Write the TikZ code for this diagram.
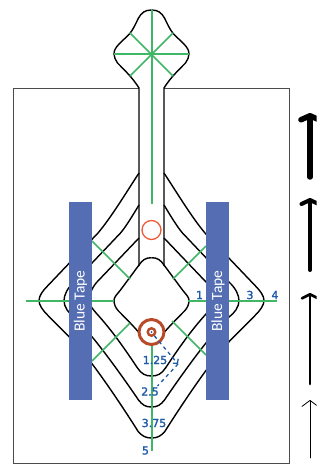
\documentclass[tikz,border=0pt]{standalone}
\usepackage{xcolor}
\usepackage{fontspec}
\setmainfont{Carlito}
\newfontfamily\labelfont[FakeBold=2]{DejaVu Sans}
\usetikzlibrary{positioning, arrows.meta}
\definecolor{tapeblue}{HTML}{546DB3}
\definecolor{markgreen}{HTML}{3FB766}
\definecolor{labelblue}{HTML}{1F5BA8}
\definecolor{ringbrown}{HTML}{B84A2A}
\definecolor{holered}{HTML}{EE5A35}
\tikzstyle{contour} = [draw=black, line width=1.4pt, line join=round]
\tikzstyle{outer} = [draw=black!70, line width=1pt]
\tikzstyle{greenline} = [draw=markgreen, line width=1.6pt]
\tikzstyle{tape} = [rectangle, minimum width=23pt, minimum height=198pt, inner sep=0pt, fill=tapeblue, text=white, font=\fontsize{15.5}{15.5}\selectfont]
\tikzstyle{dist} = [text=labelblue, inner sep=0pt, font=\labelfont\fontsize{11}{11}\selectfont]
\tikzstyle{upward} = [draw=black, line cap=round]
\begin{document}
\begin{tikzpicture}[x=1pt, y=-1pt]
		\useasboundingbox (-151.5,0) rectangle (175.5,468);
		% outer frame, open where the handle leaves it
		\draw [outer] (-12.5,89) -- (-137.5,89) -- (-137.5,463) -- (137.5,463) -- (137.5,89) -- (12.5,89);
		% the same half outlines, mirrored
		\foreach \s in {1,-1}{
			% head and neck
			\draw [contour] (0,10) .. controls (\s*7,10) and (\s*10,13) .. (\s*13,18) .. controls (\s*16,24) and (\s*18,29) .. (\s*22,34) .. controls (\s*27,39) and (\s*32,43) .. (\s*35,47) .. controls (\s*37,49) and (\s*37.5,52) .. (\s*37.5,54) .. controls (\s*37.5,57) and (\s*36,60) .. (\s*34,63) .. controls (\s*30,67) and (\s*26,71) .. (\s*21.5,76) .. controls (\s*18,80) and (\s*15,84) .. (\s*12.5,88) -- (\s*12.5,266);
			% inner
			\draw [contour] (0,257.7) .. controls (\s*6,257.7) and (\s*9,260) .. (\s*12.5,265) -- (\s*31,290) .. controls (\s*35,295) and (\s*37.5,297) .. (\s*37.5,300.6) .. controls (\s*37.5,304) and (\s*36,308) .. (\s*33,311) .. controls (\s*27,317) and (\s*20,324) .. (\s*13,332);
			% 1.25
			\draw [contour] (\s*12.5,238) -- (\s*54.5,282) .. controls (\s*60,288) and (\s*62.5,296) .. (\s*62.5,300.6) .. controls (\s*62.5,305) and (\s*58,310) .. (\s*54.5,314) .. controls (\s*40,330) and (\s*28,347) .. (\s*14,368) .. controls (\s*10,374) and (\s*6,376) .. (0,376);
			% 2.5
			\draw [contour] (\s*12.5,205) .. controls (\s*18,214) and (\s*25,226) .. (\s*31,233) -- (\s*77.5,282) .. controls (\s*84,288) and (\s*87.5,295) .. (\s*87.5,300.6) .. controls (\s*87.5,307) and (\s*83,313) .. (\s*77.5,317) .. controls (\s*60,333) and (\s*30,375) .. (\s*13,400) .. controls (\s*9,405) and (\s*6,407) .. (0,407);
			% 3.75
			\draw [contour] (\s*12.5,173) .. controls (\s*25,192) and (\s*40,217) .. (\s*53.5,233) -- (\s*104,286) .. controls (\s*109,291) and (\s*112.5,296) .. (\s*112.5,300.6) .. controls (\s*112.5,305) and (\s*109,310) .. (\s*104,315) -- (\s*78.5,340.7) .. controls (\s*60,360) and (\s*30,405) .. (\s*13,432) .. controls (\s*9,436) and (\s*6,438) .. (0,438);
		}
		% markings on the head
		\coordinate (headtop) at (0.4,10);
		\coordinate (headcentre) at (0,54);
		\coordinate (stemend) at (0.4,204);
		\draw [greenline, line width=2pt] (headtop) -- (stemend);
		\draw [greenline] (-37.5,54) -- (37.5,54);
		\draw [greenline] (-21.5,33) -- (21.5,76);
		\draw [greenline] (21.5,33) -- (-21.5,76);
		\fill [markgreen] (headcentre) circle (2);
		% markings on the body
		\draw [greenline, line width=2pt] (-125.5,300.9) -- (-37.5,300.9);
		\draw [greenline, line width=2pt] (36,300.9) -- (125.5,300.9);
		\draw [greenline] (-59.5,241) -- (-21.5,279);
		\draw [greenline] (21.5,279) -- (54.5,246);
		\draw [greenline] (-21.5,323) -- (-59.5,361);
		\draw [greenline] (20.5,321) -- (54.5,355);
		\node (Hole)[circle, draw=holered, line width=1.3pt, minimum size=19pt, inner sep=0pt] at (0,230){};
		\node (Ring)[circle, draw=ringbrown, fill=white, line width=3pt, minimum size=25pt, inner sep=0pt] at (0,332){};
		\coordinate (markend) at (0.4,451);
		\coordinate (markstart) at (0.4,346);
		\draw [greenline, line width=2pt] (markstart) -- (markend);
		\node (Pin)[circle, draw=ringbrown, line width=2.4pt, minimum size=7.5pt, inner sep=0pt] at (0,332){};
		\fill [labelblue] (Pin.center) circle (1);
		% tape
		\node (Left Tape)[tape] at (-71,301){\rotatebox{90}{Blue Tape}};
		\node (Right Tape)[tape, right = 114pt of Left Tape]{\rotatebox{90}{Blue Tape}};
		% dashed guide
		\coordinate (guidecorner) at (26.5,364);
		\coordinate (guideend) at (6,386);
		\draw [labelblue, line width=1.3pt, dash pattern=on 3.5pt off 3.5pt, -{Straight Barb[length=3pt,width=7pt]}] (Pin.center) ++(3,4) -- (guidecorner);
		\draw [labelblue, line width=1.3pt, dash pattern=on 3.5pt off 3.5pt] (guidecorner) -- (guideend);
		% distances
		\node (One)[dist] at (48,295){1};
		\node (Three)[dist] at (98.5,295){3};
		\node (Four)[dist] at (123.5,295){4};
		\node (Onequarter)[dist] at (3.5,360){1.25};
		\node (Twohalf)[dist] at (-1.5,391.5){2.5};
		\node (Threequarter)[dist] at (2.5,423){3.75};
		\node (Five)[dist] at (-6,450.5){5};
		% arrows, cut off at the right
		\begin{scope}
			\clip (145,100) rectangle (165.2,468);
			\coordinate (a1) at (158.5,177);
			\coordinate (a1top) at (158.5,113);
			\coordinate (a2) at (158.5,270);
			\coordinate (a2top) at (158.5,198);
			\coordinate (a3) at (158.5,384);
			\coordinate (a3top) at (158.5,293);
			\coordinate (a4) at (158.5,458);
			\coordinate (a4top) at (158.5,400);
			\draw [upward, line width=5.5pt, -{Straight Barb[length=4pt,width=18pt,round]}] (a1) -- (a1top);
			\draw [upward, line width=4pt, -{Straight Barb[length=4pt,width=17pt,round]}] (a2) -- (a2top);
			\draw [upward, line width=2.7pt, -{Straight Barb[length=4pt,width=16pt,round]}] (a3) -- (a3top);
			\draw [upward, line width=0.8pt, -{Straight Barb[length=6pt,width=16pt,round]}] (a4) -- (a4top);
		\end{scope}
	\end{tikzpicture}
\end{document}
